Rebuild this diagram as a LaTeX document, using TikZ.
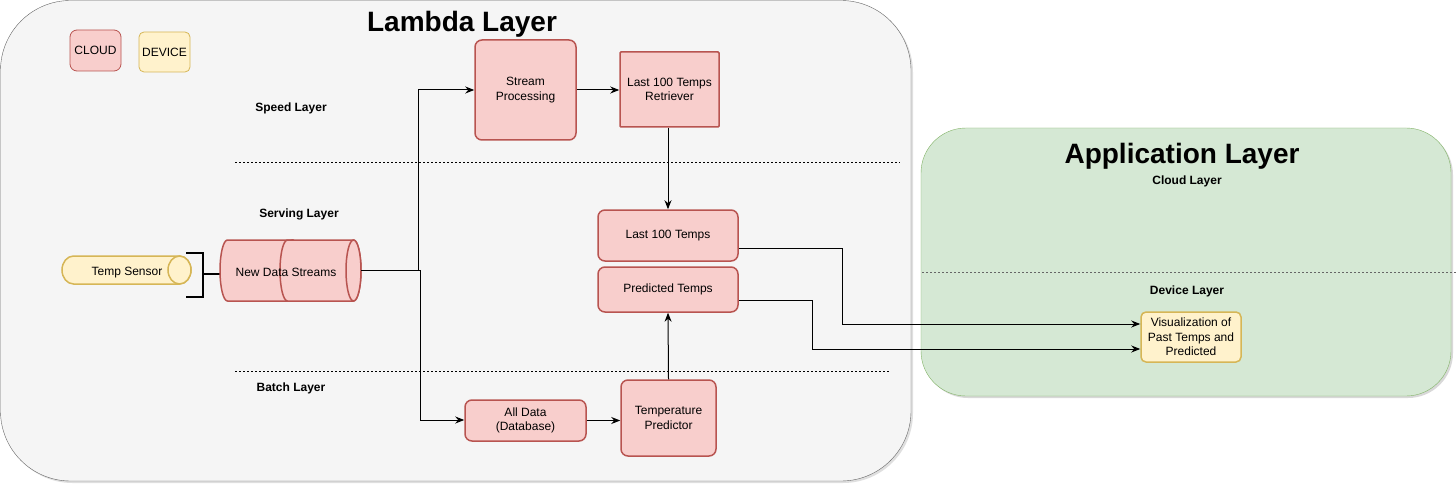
\documentclass[tikz,border=0pt]{standalone}
\usepackage{fontspec}
\setmainfont{Liberation Sans}
\usetikzlibrary{arrows.meta,positioning,shadows}
\definecolor{cloudfill}{HTML}{F8CECC}
\definecolor{cloudline}{HTML}{B85450}
\definecolor{devfill}{HTML}{FFF2CC}
\definecolor{devline}{HTML}{D6B656}
\definecolor{appfill}{HTML}{D5E8D4}
\definecolor{appline}{HTML}{82B366}
\definecolor{lamfill}{HTML}{F5F5F5}
\definecolor{lamline}{HTML}{666666}
\begin{document}
\begin{tikzpicture}[x=1pt,y=-1pt,
  txt/.style={font=\fontsize{12}{14.5}\selectfont, align=center},
  cloudbox/.style={txt, draw=cloudline, fill=cloudfill, line width=1.5pt, rounded corners=7pt, inner sep=0pt},
  devbox/.style={txt, draw=devline, fill=devfill, line width=1.5pt, rounded corners=5pt, inner sep=0pt},
  layerlbl/.style={font=\bfseries\fontsize{12}{14}\selectfont, yshift=-2pt},
  bigtitle/.style={font=\bfseries\fontsize{28}{30}\selectfont, yshift=-2.5pt},
  sep/.style={dash pattern=on 2pt off 2pt, line width=0.8pt},
  flow/.style={-{Stealth[length=9pt,width=7pt]}, line width=1pt}]
\useasboundingbox (0,0) rectangle (1456,484);
\fill[white] (0,0) rectangle (1456,484);

\draw[lamline, fill=lamfill, rounded corners=70pt, drop shadow={shadow xshift=2pt, shadow yshift=-2pt, opacity=0.25}] (0.5,0.5) rectangle (911,481);
\draw[appline, fill=appfill, rounded corners=45pt, drop shadow={shadow xshift=2pt, shadow yshift=-2pt, opacity=0.3}] (921,128) rectangle (1451,396);

\node[bigtitle] (lambdatitle) at (462,22) {Lambda Layer};
\node[bigtitle] (apptitle) at (1182,154) {Application Layer};

\node[cloudbox, line width=0.8pt, minimum width=51pt, minimum height=41pt] (legcloud) at (95.5,50.5) {CLOUD};
\node[devbox, line width=0.8pt, minimum width=51pt, minimum height=40pt] (legdevice) at (164.5,52) {DEVICE};

\node[layerlbl] (speedlbl) at (291,106) {Speed Layer};
\node[layerlbl] (servinglbl) at (299,212) {Serving Layer};
\node[layerlbl] (batchlbl) at (291,386) {Batch Layer};
\node[layerlbl] (cloudlbl) at (1187,179) {Cloud Layer};
\node[layerlbl] (devicelbl) at (1187,289) {Device Layer};

\draw[sep] (235,162) -- (900,162);
\draw[sep] (235,371) -- (890,371);
\draw[sep, lamline] (922,272) -- (1456,272);

% temp sensor
\draw[devline, fill=devfill, line width=1.5pt] (73.5,256) -- (179.5,256) arc[start angle=90, end angle=-90, x radius=11.5pt, y radius=14pt] -- (73.5,284) arc[start angle=270, end angle=90, x radius=11.5pt, y radius=14pt] -- cycle;
\draw[devline, fill=devfill, line width=1.5pt] (179.5,270) ellipse[x radius=11.5pt, y radius=14pt];
\node[txt, yshift=-2pt] (sensor) at (127,271) {Temp Sensor};
\draw[line width=2pt] (186,253) -- (203,253) -- (203,297) -- (186,297);
\draw[line width=2pt] (203,274) -- (220,274);

% new data streams
\foreach \l/\r in {220/300, 280/361} {
  \draw[cloudline, fill=cloudfill, line width=1.5pt] (\l+7.5,240) -- (\r-7.5,240) arc[start angle=90, end angle=-90, x radius=7.5pt, y radius=30.5pt] -- (\l+7.5,301) arc[start angle=270, end angle=90, x radius=7.5pt, y radius=30.5pt] -- cycle;
  \draw[cloudline, fill=cloudfill, line width=1.5pt] (\r-7.5,270.5) ellipse[x radius=7.5pt, y radius=30.5pt];
}
\node[txt, yshift=-1.5pt] (streams) at (286,271) {New Data Streams};
\coordinate (dsout) at (361,270);

\node[cloudbox, minimum width=101pt, minimum height=100pt] (stream) at (525.5,90) {Stream\\Processing};
\node[cloudbox, rounded corners=1pt, minimum width=99pt, minimum height=75pt] (retriever) at (669.5,89.5) {Last 100 Temps\\Retriever};
\node[cloudbox, minimum width=140pt, minimum height=51pt] (last100) at (668,235.5) {Last 100 Temps};
\node[cloudbox, minimum width=140pt, minimum height=45pt] (predicted) at (668,289.5) {Predicted Temps};
\node[cloudbox, minimum width=121pt, minimum height=41pt] (alldata) at (525.5,420.5) {All Data\\(Database)};
\node[cloudbox, minimum width=95pt, minimum height=76pt] (predictor) at (668.5,418) {Temperature\\Predictor};
\node[devbox, minimum width=100pt, minimum height=50pt] (viz) at (1191,337) {Visualization of\\Past Temps and\\Predicted};

\draw[flow] (dsout) -- ++(57,0) |- (stream.west);
\draw[flow] (dsout) -- ++(59,0) |- ([yshift=0.5pt]alldata.west);
\draw[flow] (stream.east) -- (stream.east -| retriever.west);
\draw[flow] (retriever.south -| last100.north) -- (last100.north);
\draw[flow] (alldata.east) -- (alldata.east -| predictor.west);
\draw[flow] (predictor.north) -- (predicted.south);
\draw[flow] ([yshift=-12.5pt]last100.east) -- ++(104,0) |- ([yshift=13pt]viz.west);
\draw[flow] ([yshift=-10.5pt]predicted.east) -- ++(74,0) |- ([yshift=-12pt]viz.west);
\end{tikzpicture}
\end{document}
